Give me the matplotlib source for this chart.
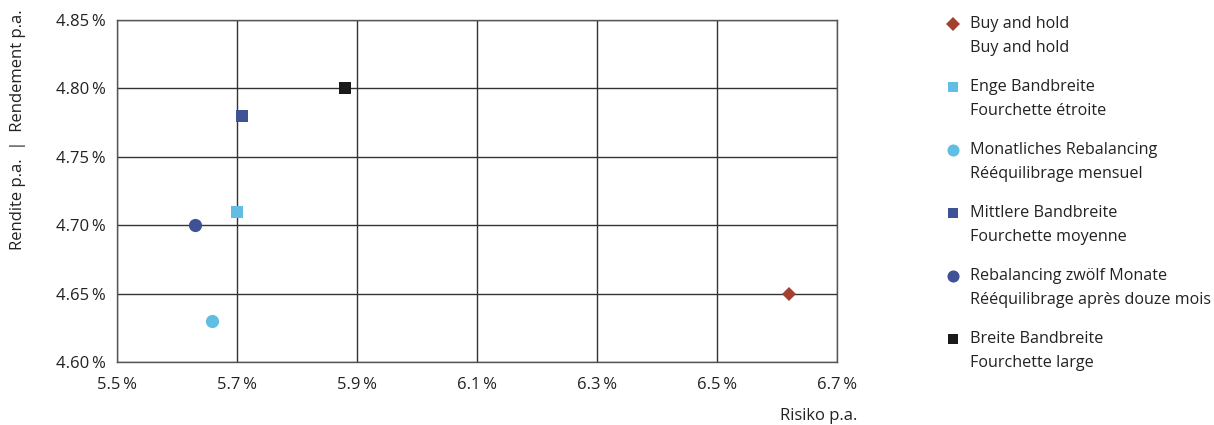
import matplotlib
matplotlib.use('Agg')
import matplotlib.pyplot as plt

plt.rcParams['font.family'] = ['Open Sans', 'DejaVu Sans']

# data (risk % p.a., return % p.a.)
names_de = ['Buy and hold', 'Enge Bandbreite', 'Monatliches Rebalancing',
            'Mittlere Bandbreite', 'Rebalancing zwölf Monate', 'Breite Bandbreite']
names_fr = ['Buy and hold', 'Fourchette étroite', 'Rééquilibrage mensuel',
            'Fourchette moyenne', 'Rééquilibrage après douze mois', 'Fourchette large']
risk = [6.62, 5.70, 5.658, 5.708, 5.63, 5.88]
ret = [4.65, 4.71, 4.63, 4.78, 4.70, 4.80]
markers = ['D', 's', 'o', 's', 'o', 's']
colors = ['#a2412f', '#62bde5', '#62bde5', '#3f5296', '#3f5296', '#1a1a1a']
msize = [7.5, 8.5, 9.5, 8.5, 9.5, 8.5]

xticks = [5.5, 5.7, 5.9, 6.1, 6.3, 6.5, 6.7]
yticks = [4.60, 4.65, 4.70, 4.75, 4.80, 4.85]

txt = '#222222'
W, H = 1214, 425
fig = plt.figure(figsize=(W/100, H/100), dpi=100)
ax = fig.add_axes([117/W, 1-362/H, (837-117)/W, (362-20)/H])

for i in range(len(risk)):
    ax.plot(risk[i], ret[i], marker=markers[i], color=colors[i], ms=msize[i],
            mew=0, ls='none', zorder=3)

ax.set_xlim(5.5, 6.7)
ax.set_ylim(4.60, 4.85)
ax.set_xticks(xticks)
ax.set_yticks(yticks)
ax.set_xticklabels(['%.1f\u2009%%' % v for v in xticks])
ax.set_yticklabels(['%.2f\u2009%%' % v for v in yticks])
ax.tick_params(length=0, labelsize=12, labelcolor=txt)
ax.tick_params(axis='x', pad=11)
ax.tick_params(axis='y', pad=8)
ax.grid(True, color='#333333', lw=1)
for s in ax.spines.values():
    s.set_color('#555555')
    s.set_linewidth(1)

fig.text(18/W, 1-130/H, 'Rendite p.a.  |  Rendement p.a.', rotation=90,
         ha='center', va='center', fontsize=12, color=txt)
fig.text(857/W, 1-416/H, 'Risiko p.a.', ha='right', va='center',
         fontsize=12, color=txt)

# legend drawn by hand: marker on first line, two language lines
lax = fig.add_axes([0, 0, 1, 1])
lax.set_xlim(0, W)
lax.set_ylim(H, 0)
lax.axis('off')
for i in range(len(names_de)):
    y = 24 + 63*i
    lax.plot(953, y, marker=markers[i], color=colors[i], ms=msize[i]-0.8,
             mew=0, ls='none')
    lax.text(970, y, names_de[i], va='center', fontsize=11.6, color=txt)
    lax.text(970, y+24, names_fr[i], va='center', fontsize=11.6, color=txt)

fig.savefig('out.png', dpi=100)
